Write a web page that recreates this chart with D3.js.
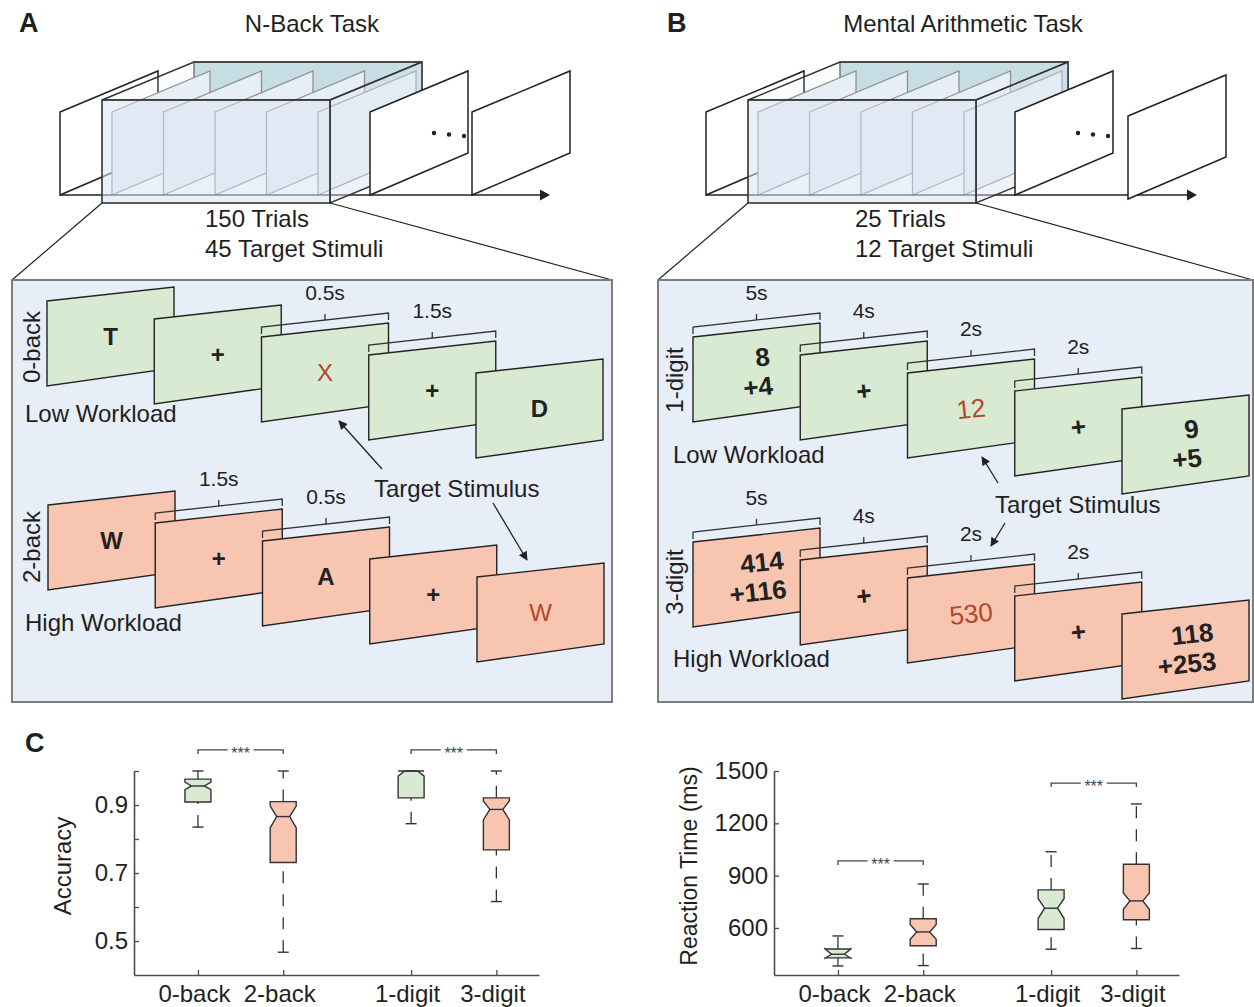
<!DOCTYPE html>
<html>
<head>
<meta charset="utf-8">
<script src="https://cdn.jsdelivr.net/npm/d3@7"></script>
<style>
  body { margin: 0; background: #fff; }
  svg text { font-family: "Liberation Sans", Arial, Helvetica, sans-serif; fill: #1f1f1f; }
</style>
</head>
<body>
<svg id="canvas" width="1254" height="1007"></svg>
<script>
// ---------------- chart data (panel C) ----------------
const categories = ['0-back', '2-back', '1-digit', '3-digit'];
const catPos = [1, 2, 3.5, 4.5];
const catLoad = ['low', 'high', 'low', 'high'];

const accLow     = [0.835, 0.467, 0.845, 0.616];
const accQ1      = [0.909, 0.731, 0.921, 0.768];
const accMed     = [0.956, 0.866, 1.000, 0.887];
const accQ3      = [0.976, 0.910, 1.000, 0.921];
const accHigh    = [1.000, 1.000, 1.000, 1.000];
const accNotchLo = [0.945, 0.833, 0.985, 0.856];
const accNotchHi = [0.967, 0.897, 1.000, 0.912];
const accTicks = [0.5, 0.6, 0.7, 0.8, 0.9, 1.0];
const accTickLabels = ['0.5', '', '0.7', '', '0.9', ''];
const accSig = [[0, 1, 1.062], [2, 3, 1.062]];

const rtLow     = [382, 384, 478, 482];
const rtQ1      = [428, 498, 591, 647];
const rtMed     = [449, 577, 713, 755];
const rtQ3      = [479, 653, 818, 965];
const rtHigh    = [554, 852, 1037, 1311];
const rtNotchLo = [426, 535, 654, 707];
const rtNotchHi = [481, 620, 769, 801];
const rtTicks = [600, 900, 1200, 1500];
const rtTickLabels = ['600', '900', '1200', '1500'];
const rtSig = [[0, 1, 984], [2, 3, 1431]];

// ---------------- diagram text (panels A, B) ----------------
const taskTitles = ['N-Back Task', 'Mental Arithmetic Task'];
const trialLines = [['150 Trials', '45 Target Stimuli'], ['25 Trials', '12 Target Stimuli']];
const nbackLow  = [['T'], ['+'], ['X'], ['+'], ['D']];
const nbackHigh = [['W'], ['+'], ['A'], ['+'], ['W']];
const nbackLowDur  = ['', '', '0.5s', '1.5s', ''];
const nbackHighDur = ['', '1.5s', '0.5s', '', ''];
const mathLow  = [['8', '+4'], ['+'], ['12'], ['+'], ['9', '+5']];
const mathHigh = [['414', '+116'], ['+'], ['530'], ['+'], ['118', '+253']];
const mathDur  = ['5s', '4s', '2s', '2s', ''];

const GREEN = '#d9ead3', PINK = '#f8c5b1', RED = '#b5462b', INK = '#222';
const FONT = '"Liberation Sans", Arial, Helvetica, sans-serif';

let svg = d3.select('#canvas');

svg.append('defs').append('marker')
    .attr('id', 'head').attr('viewBox', '0 0 10 10')
    .attr('refX', 9).attr('refY', 5)
    .attr('markerWidth', 11).attr('markerHeight', 9)
    .attr('markerUnits', 'userSpaceOnUse')
    .attr('orient', 'auto')
  .append('path').attr('d', 'M0,0 L10,5 L0,10 Z').attr('fill', INK);

// panel letters and titles
[['A', 19, 32], ['B', 667, 32], ['C', 25, 752]].forEach(l => {
    svg.append('text').text(l[0]).attr('x', l[1]).attr('y', l[2])
        .style('font-size', '27px').style('font-weight', 'bold');
});

// ---------------- top stacks ----------------
let stacks = [
    {fx: 102, title: 0, tx: 312, front: [[268, 0], [370, 0]], dots: 332, tip: 448, textX: 205},
    {fx: 748, title: 1, tx: 963, front: [[267, 0], [380, 4]], dots: 330, tip: 449, textX: 855}
];

let framePts = (x, dy) => [[x, 112 + dy], [x + 98, 71 + dy], [x + 98, 153 + dy], [x, 195 + dy]];

stacks.forEach(s => {
    let g = svg.append('g');
    const fx = s.fx, fw = 228, fh = 103, dx = 92, dy = -38;

    g.append('text').text(taskTitles[s.title]).attr('x', s.tx).attr('y', 32)
        .attr('text-anchor', 'middle').style('font-size', '24px');

    // frame behind the box
    g.append('polygon').attr('points', framePts(fx - 42, 0).join(' '))
        .attr('fill', '#fff').attr('stroke', INK).attr('stroke-width', 1.5);

    // back face of the box
    g.append('rect').attr('x', fx + dx).attr('y', 100 + dy).attr('width', fw).attr('height', fh)
        .attr('fill', '#c3dce3').attr('stroke', '#555').attr('stroke-width', 1.3);

    // frames inside the box
    [10, 61.5, 113, 164.5, 216].forEach(o => {
        g.append('polygon').attr('points', framePts(fx + o, 0).join(' '))
            .attr('fill', '#eaf0f8').attr('stroke', '#858585').attr('stroke-width', 1.3);
    });

    // time axis
    g.append('line').attr('x1', fx - 42).attr('x2', fx + s.tip - 8).attr('y1', 195).attr('y2', 195)
        .attr('stroke', INK).attr('stroke-width', 1.5);
    g.append('polygon')
        .attr('points', [[fx + s.tip - 10, 189.5], [fx + s.tip, 195], [fx + s.tip - 10, 200.5]].join(' '))
        .attr('fill', INK);

    // translucent faces
    g.append('polygon')
        .attr('points', [[fx, 100], [fx + fw, 100], [fx + fw + dx, 100 + dy], [fx + dx, 100 + dy]].join(' '))
        .attr('fill', '#dbe5f1').attr('fill-opacity', 0.12).attr('stroke', '#333').attr('stroke-width', 1.4);
    g.append('polygon')
        .attr('points', [[fx + fw, 100], [fx + fw + dx, 100 + dy], [fx + fw + dx, 203 + dy], [fx + fw, 203]].join(' '))
        .attr('fill', '#dbe5f1').attr('fill-opacity', 0.45).attr('stroke', '#333').attr('stroke-width', 1.4);
    g.append('rect').attr('x', fx).attr('y', 100).attr('width', fw).attr('height', fh)
        .attr('fill', '#d9e3f0').attr('fill-opacity', 0.55).attr('stroke', '#333').attr('stroke-width', 1.6);

    // frames after the box
    s.front.forEach(f => {
        g.append('polygon').attr('points', framePts(fx + f[0], f[1]).join(' '))
            .attr('fill', '#fff').attr('stroke', INK).attr('stroke-width', 1.5);
    });
    [0, 1, 2].forEach(k => {
        g.append('circle').attr('cx', fx + s.dots + k * 15).attr('cy', 133 + k * 1.5).attr('r', 2.2).attr('fill', INK);
    });

    trialLines[s.title].forEach((t, k) => {
        g.append('text').text(t).attr('x', s.textX).attr('y', 227 + k * 30).style('font-size', '24px');
    });
});

// ---------------- detail panels ----------------
let panels = [
    {x: 12, w: 600, src: 102, tilt: 0, fs: 24, rows: [
        {x: 47, y: 301, items: nbackLow, dur: nbackLowDur, fill: GREEN, target: 2, side: '0-back', sideY: 347, load: 'Low Workload', loadY: 422},
        {x: 48, y: 505, items: nbackHigh, dur: nbackHighDur, fill: PINK, target: 4, side: '2-back', sideY: 547, load: 'High Workload', loadY: 631}
     ], target: {x: 374, y: 497, arrows: [[382, 469, 339, 421], [493, 503, 527, 560]]}, sideX: 31.5, loadX: 25},
    {x: 658, w: 595, src: 748, tilt: -6, fs: 26, rows: [
        {x: 693, y: 337, items: mathLow, dur: mathDur, fill: GREEN, target: 2, side: '1-digit', sideY: 380, load: 'Low Workload', loadY: 463},
        {x: 693, y: 542, items: mathHigh, dur: mathDur, fill: PINK, target: 2, side: '3-digit', sideY: 582, load: 'High Workload', loadY: 667}
     ], target: {x: 995, y: 513, arrows: [[998, 483, 982, 457], [1005, 523, 991, 546]]}, sideX: 674, loadX: 673}
];

const FW = 127, FR = 14, FH = 85, FH2 = 67, STEP_X = 107.25, STEP_Y = 18;

panels.forEach(p => {
    let g = svg.append('g');
    // zoom lines from the box
    g.append('line').attr('x1', p.src).attr('y1', 203).attr('x2', p.x).attr('y2', 280)
        .attr('stroke', INK).attr('stroke-width', 1.2);
    g.append('line').attr('x1', p.src + 228).attr('y1', 203).attr('x2', p.x + p.w).attr('y2', 280)
        .attr('stroke', INK).attr('stroke-width', 1.2);
    g.append('rect').attr('x', p.x).attr('y', 280).attr('width', p.w).attr('height', 422)
        .attr('fill', '#e7eef8').attr('stroke', '#7d7d7d').attr('stroke-width', 2);

    p.rows.forEach(row => {
        row.items.forEach((lines, i) => {
            const fx = row.x + i * STEP_X, fy = row.y + i * STEP_Y;
            g.append('polygon')
                .attr('points', [[fx, fy], [fx + FW, fy - FR], [fx + FW, fy + FH2], [fx, fy + FH]].join(' '))
                .attr('fill', row.fill).attr('stroke', INK).attr('stroke-width', 1.4);
            const cx = fx + FW / 2, cy = fy + (FH - FR) / 2;
            const isTarget = i === row.target;
            let tg = g.append('g').attr('transform', `rotate(${p.tilt},${cx},${cy})`);
            let texts = lines.map((t, k) => {
                const off = lines.length === 1 ? 0 : (k === 0 ? -15 : 14);
                return tg.append('text').text(t)
                    .attr('y', cy + off + p.fs * 0.36)
                    .style('font-size', p.fs + 'px')
                    .style('font-weight', isTarget ? 'normal' : 'bold')
                    .style('fill', isTarget ? RED : INK);
            });
            if (lines.length === 1) {
                texts[0].attr('x', cx).attr('text-anchor', 'middle');
            } else {
                const w = d3.max(texts, t => t.node().getComputedTextLength());
                texts.forEach(t => t.attr('x', cx + w / 2).attr('text-anchor', 'end'));
            }
        });
        // duration brackets
        row.dur.forEach((d, i) => {
            if (!d) return;
            const fx = row.x + i * STEP_X, fy = row.y + i * STEP_Y;
            const y1 = fy - 10, y2 = fy - FR - 10, mx = fx + FW / 2, my = (y1 + y2) / 2;
            g.append('path')
                .attr('d', `M${fx},${y1 + 7} L${fx},${y1} L${fx + FW},${y2} L${fx + FW},${y2 + 7} M${mx},${my} L${mx},${my - 6}`)
                .attr('fill', 'none').attr('stroke', '#333').attr('stroke-width', 1.3);
            g.append('text').text(d).attr('x', mx).attr('y', my - 28 + 7.5)
                .attr('text-anchor', 'middle').style('font-size', '21px');
        });
        g.append('text').text(row.side)
            .attr('transform', `translate(${p.sideX},${row.sideY}) rotate(-90)`)
            .attr('y', 8.5).attr('text-anchor', 'middle').style('font-size', '24px');
        g.append('text').text(row.load).attr('x', p.loadX).attr('y', row.loadY).style('font-size', '24px');
    });

    g.append('text').text('Target Stimulus').attr('x', p.target.x).attr('y', p.target.y).style('font-size', '24px');
    p.target.arrows.forEach(a => {
        g.append('line').attr('x1', a[0]).attr('y1', a[1]).attr('x2', a[2]).attr('y2', a[3])
            .attr('stroke', INK).attr('stroke-width', 1.3).attr('marker-end', 'url(#head)');
    });
});

// ---------------- panel C box plots ----------------
function boxChart(o) {
    let g = svg.append('g');
    let x = d3.scaleLinear().domain([0.25, 5]).range(o.xRange);
    let y = d3.scaleLinear().domain(o.yDomain).range([975, 771]);

    let gy = g.append('g').attr('transform', `translate(${o.xRange[0]},0)`)
        .call(d3.axisLeft(y).tickValues(o.ticks).tickFormat((d, i) => o.tickLabels[i])
            .tickSize(-5).tickSizeOuter(0).tickPadding(6));
    let gx = g.append('g').attr('transform', 'translate(0,975)')
        .call(d3.axisBottom(x).tickValues(catPos).tickFormat((d, i) => categories[i])
            .tickSize(-5).tickSizeOuter(0).tickPadding(10));
    [gx, gy].forEach(a => {
        a.attr('font-family', FONT).attr('font-size', 24);
        a.select('.domain').attr('stroke', '#4d4d4d').attr('stroke-width', 1.6);
        a.selectAll('.tick line').attr('stroke', '#4d4d4d').attr('stroke-width', 1.3);
        a.selectAll('.tick text').attr('fill', '#1f1f1f');
    });
    gx.selectAll('.tick text').attr('dx', -4);

    g.append('text').text(o.label)
        .attr('transform', `translate(${o.labelX},866) rotate(-90)`)
        .attr('y', 8.5).attr('text-anchor', 'middle').style('font-size', o.labelSize + 'px');

    categories.forEach((c, i) => {
        const cx = x(catPos[i]), L = cx - 13, R = cx + 13, ins = 6.5;
        const wh = [[o.low[i], o.q1[i]], [o.q3[i], o.high[i]]];
        wh.forEach(w => {
            if (w[0] >= w[1]) return;
            g.append('line').attr('x1', cx).attr('x2', cx).attr('y1', y(w[0])).attr('y2', y(w[1]))
                .attr('stroke', '#333').attr('stroke-width', 1.3).attr('stroke-dasharray', '12,11');
        });
        [o.low[i], o.high[i]].forEach(v => {
            g.append('line').attr('x1', cx - 5.5).attr('x2', cx + 5.5).attr('y1', y(v)).attr('y2', y(v))
                .attr('stroke', '#333').attr('stroke-width', 1.4);
        });
        const q1 = y(o.q1[i]), q3 = y(o.q3[i]), md = y(o.med[i]), nl = y(o.nLo[i]), nh = y(o.nHi[i]);
        g.append('path')
            .attr('d', `M${L},${q3} L${R},${q3} L${R},${nh} L${R - ins},${md} L${R},${nl} L${R},${q1} ` +
                       `L${L},${q1} L${L},${nl} L${L + ins},${md} L${L},${nh} Z`)
            .attr('fill', catLoad[i] === 'low' ? GREEN : PINK)
            .attr('stroke', '#333').attr('stroke-width', 1.4).attr('stroke-linejoin', 'miter');
        g.append('line').attr('x1', L + ins).attr('x2', R - ins).attr('y1', md).attr('y2', md)
            .attr('stroke', '#333').attr('stroke-width', 1.4);
    });

    o.sig.forEach(s => {
        const x1 = x(catPos[s[0]]), x2 = x(catPos[s[1]]), yy = y(s[2]), mid = (x1 + x2) / 2;
        g.append('path')
            .attr('d', `M${x1},${yy + 4} V${yy} H${mid - 13} M${mid + 13},${yy} H${x2} V${yy + 4}`)
            .attr('fill', 'none').attr('stroke', '#444').attr('stroke-width', 1.3);
        g.append('text').text('***').attr('x', mid).attr('y', yy + 9)
            .attr('text-anchor', 'middle').style('font-size', '16px').style('fill', '#444');
    });
}

boxChart({xRange: [134, 539], yDomain: [0.4, 1.0], ticks: accTicks, tickLabels: accTickLabels,
    low: accLow, q1: accQ1, med: accMed, q3: accQ3, high: accHigh, nLo: accNotchLo, nHi: accNotchHi,
    sig: accSig, label: 'Accuracy', labelX: 62, labelSize: 24});

boxChart({xRange: [774, 1179], yDomain: [330, 1500], ticks: rtTicks, tickLabels: rtTickLabels,
    low: rtLow, q1: rtQ1, med: rtMed, q3: rtQ3, high: rtHigh, nLo: rtNotchLo, nHi: rtNotchHi,
    sig: rtSig, label: 'Reaction Time (ms)', labelX: 688, labelSize: 23});
</script>
</body>
</html>
